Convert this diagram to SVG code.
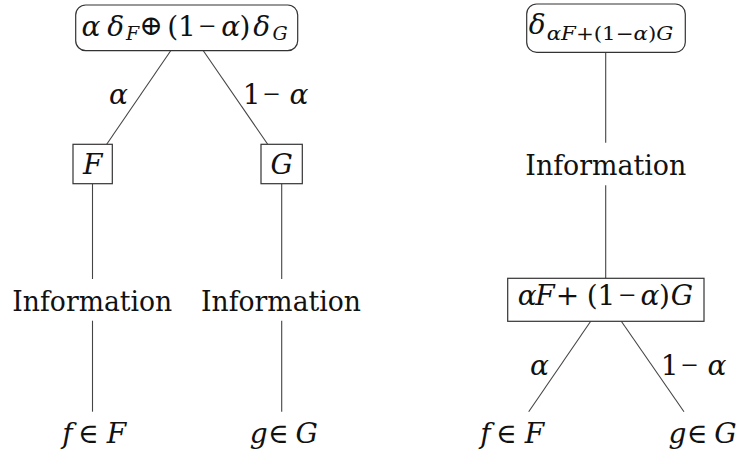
<svg xmlns="http://www.w3.org/2000/svg" width="736" height="458" viewBox="0 0 736 458">
<style>
text{font-family:"DejaVu Serif","Liberation Serif",serif;font-size:28px;fill:#111}
.i{font-style:italic}
.c{text-anchor:middle}
.sub{font-size:19px}
.op{font-family:"Liberation Serif",serif;font-size:30px}
.box{fill:#fff;stroke:#333;stroke-width:1.2}
.edge{stroke:#444;stroke-width:1.1;fill:none}
</style>
<rect width="736" height="458" fill="#fff"/>
<g id="connectors">
<line class="edge" x1="170.7" y1="50.7" x2="106.7" y2="144.3"/>
<line class="edge" x1="203.3" y1="50.7" x2="267.7" y2="144.3"/>
<line class="edge" x1="92.5" y1="183.7" x2="92.5" y2="279"/>
<line class="edge" x1="92.5" y1="320.7" x2="92.5" y2="411.7"/>
<line class="edge" x1="281.7" y1="183.7" x2="281.7" y2="279"/>
<line class="edge" x1="281.7" y1="320.7" x2="281.7" y2="411.7"/>
<line class="edge" x1="605.7" y1="52.3" x2="605.7" y2="142.7"/>
<line class="edge" x1="605.7" y1="185.3" x2="605.7" y2="278.3"/>
<line class="edge" x1="590.7" y1="321.3" x2="528.7" y2="411.7"/>
<line class="edge" x1="621.3" y1="321.3" x2="684" y2="411.7"/>
<text x="118.4" y="104" class="i c">α</text>
<text x="251.7" y="104" class="c">1</text>
<text x="271.7" y="104" class="op c">−</text>
<text x="299" y="104" class="i c">α</text>
<text x="539.4" y="375" class="i c">α</text>
<text x="669.7" y="375" class="c">1</text>
<text x="689.7" y="375" class="op c">−</text>
<text x="717" y="375" class="i c">α</text>
</g>
<g id="mix-left">
<rect class="box" x="75.7" y="5" width="222" height="45.7" rx="10"/>
<text x="91" y="36" class="i c">α</text>
<text x="115.8" y="36" class="i c">δ</text>
<text x="132.5" y="40" class="i sub c">F</text>
<text x="151" y="35" class="c" font-size="18">⊕</text>
<text x="181.5" y="36" class="c">(1</text>
<text x="207.5" y="36" class="op c">−</text>
<text x="230.8" y="36" class="i c">α</text>
<text x="245" y="36" class="c">)</text>
<text x="261.7" y="36" class="i c">δ</text>
<text x="280" y="40" class="i sub c">G</text>
</g>
<g id="F">
<rect class="box" x="73" y="144.3" width="39.3" height="39.4"/>
<text x="92.7" y="174" class="i c">F</text>
</g>
<g id="G">
<rect class="box" x="261" y="144.3" width="41.3" height="39.4"/>
<text x="281.7" y="174" class="i c">G</text>
</g>
<g id="info-left-1">
<text x="12.3" y="311" textLength="160" lengthAdjust="spacingAndGlyphs">Information</text>
</g>
<g id="info-left-2">
<text x="201" y="311" textLength="160" lengthAdjust="spacingAndGlyphs">Information</text>
</g>
<g id="f-left">
<text x="67.5" y="443" class="i c">f</text>
<text x="88.3" y="443" class="c">∈</text>
<text x="116.5" y="443" class="i c">F</text>
</g>
<g id="g-left">
<text x="258.7" y="443" class="i c">g</text>
<text x="278.3" y="443" class="c">∈</text>
<text x="306.7" y="443" class="i c">G</text>
</g>
<g id="mix-right">
<rect class="box" x="526.7" y="4" width="158.6" height="48.3" rx="10"/>
<text x="537.2" y="34" class="i c">δ</text>
<text x="546.7" y="40" class="sub" textLength="126.6" lengthAdjust="spacingAndGlyphs"><tspan class="i">αF</tspan>+(1−<tspan class="i">α</tspan>)<tspan class="i">G</tspan></text>
</g>
<g id="info-right">
<text x="525.3" y="175" textLength="161" lengthAdjust="spacingAndGlyphs">Information</text>
</g>
<g id="avg">
<rect class="box" x="507.7" y="278.3" width="196.3" height="43"/>
<text x="527.3" y="305" class="i c">α</text>
<text x="545" y="305" class="i c">F</text>
<text x="567.5" y="305" class="c" font-size="22">+</text>
<text x="601" y="305" class="c">(1</text>
<text x="627.5" y="305" class="op c">−</text>
<text x="650" y="305" class="i c">α</text>
<text x="664.5" y="305" class="c">)</text>
<text x="682" y="305" class="i c">G</text>
</g>
<g id="f-right">
<text x="485.5" y="443" class="i c">f</text>
<text x="506.3" y="443" class="c">∈</text>
<text x="534.5" y="443" class="i c">F</text>
</g>
<g id="g-right">
<text x="677.4" y="443" class="i c">g</text>
<text x="697" y="443" class="c">∈</text>
<text x="725.4" y="443" class="i c">G</text>
</g>
</svg>
